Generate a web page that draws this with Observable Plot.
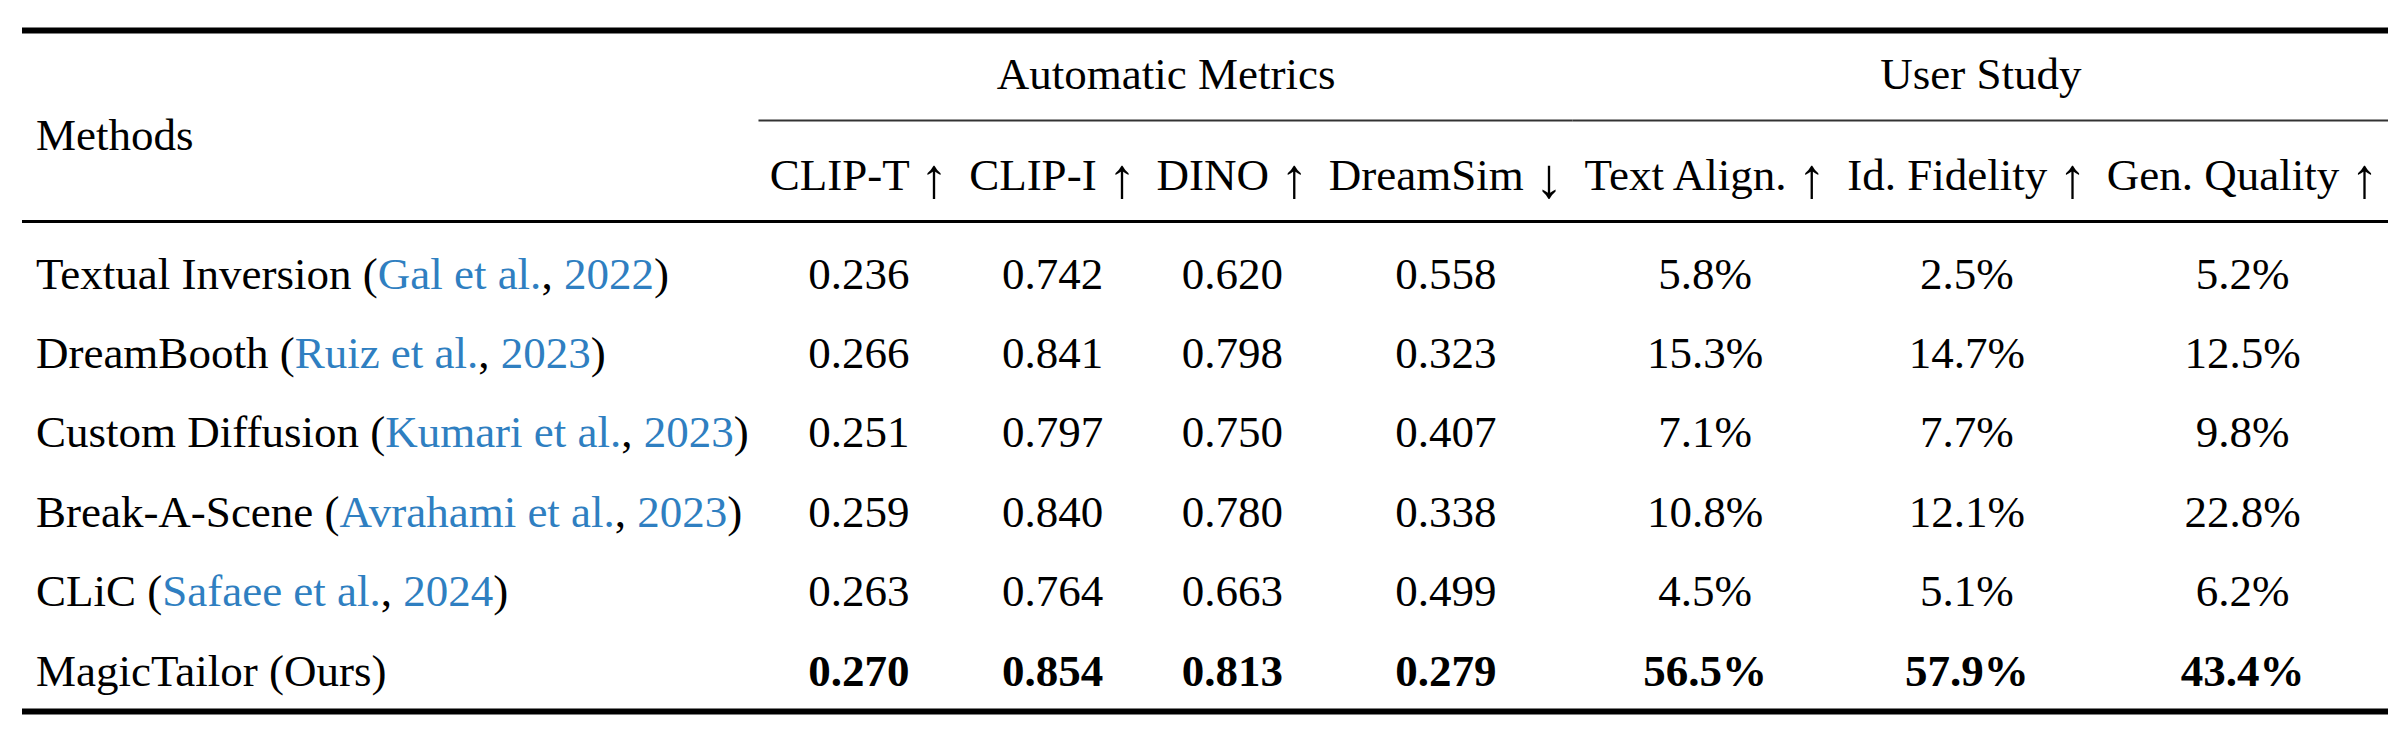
<!DOCTYPE html>
<html>
<head>
<meta charset="utf-8">
<script src="https://cdn.jsdelivr.net/npm/d3@7"></script>
<script src="https://cdn.jsdelivr.net/npm/@observablehq/plot@0.6"></script>
<style>
  html, body { margin: 0; padding: 0; background: #fff; }
  #chart svg { display: block; }
</style>
</head>
<body>
<div id="chart"></div>
<script>
// ---------- data ----------
const methods = ["Textual Inversion", "DreamBooth", "Custom Diffusion", "Break-A-Scene", "CLiC", "MagicTailor (Ours)"];
const citeAuthors = ["Gal et al.", "Ruiz et al.", "Kumari et al.", "Avrahami et al.", "Safaee et al.", null];
const citeYears = [2022, 2023, 2023, 2023, 2024, null];

const groups = ["Automatic Metrics", "User Study"];
const metricNames = ["CLIP-T", "CLIP-I", "DINO", "DreamSim", "Text Align.", "Id. Fidelity", "Gen. Quality"];
const metricGroup = [0, 0, 0, 0, 1, 1, 1];
const arrows = ["↑", "↑", "↑", "↓", "↑", "↑", "↑"];
const isPercent = [false, false, false, false, true, true, true];

const clipT = [0.236, 0.266, 0.251, 0.259, 0.263, 0.270];
const clipI = [0.742, 0.841, 0.797, 0.840, 0.764, 0.854];
const dino = [0.620, 0.798, 0.750, 0.780, 0.663, 0.813];
const dreamSim = [0.558, 0.323, 0.407, 0.338, 0.499, 0.279];
const textAlign = [5.8, 15.3, 7.1, 10.8, 4.5, 56.5];
const idFidelity = [2.5, 14.7, 7.7, 12.1, 5.1, 57.9];
const genQuality = [5.2, 12.5, 9.8, 22.8, 6.2, 43.4];
const series = [clipT, clipI, dino, dreamSim, textAlign, idFidelity, genQuality];

// ---------- styling / layout ----------
const W = 2401, H = 747;
const FONT = "'Liberation Serif', 'Times New Roman', Times, serif";
const FS = 45;
const ARROW_FS = 56;
const CITE = "#2f7fc1";
const tableLeft = 22, tableRight = 2388;
const vpos = {topRule: 30, group: 88, cmid: 120, sub: 189, methodsHead: 149, mid: 221, firstRow: 288, pitch: 79.4, bottomRule: 711};

const fmt = (v, j) => isPercent[j] ? v.toFixed(1) + "%" : v.toFixed(3);
const label = i => citeAuthors[i] ? `${methods[i]} (${citeAuthors[i]}, ${citeYears[i]})` : methods[i];
const headLabel = j => `${metricNames[j]} ${arrows[j]}`;
const best = series.map((s, j) => arrows[j] === "↓" ? d3.min(s) : d3.max(s));

// measure text like LaTeX column widths (arrow counted at the text size, as a 0.5em math symbol)
const ctx = document.createElement("canvas").getContext("2d");
const tw = (s, bold) => { ctx.font = `${bold ? "bold " : ""}${FS}px 'Liberation Serif'`; return ctx.measureText(s).width; };
const colW = [d3.max(["Methods", ...methods.map((_, i) => label(i))], s => tw(s))];
metricNames.forEach((m, j) => {
  colW.push(d3.max([tw(headLabel(j)), ...series[j].map(v => tw(fmt(v, j), v === best[j]))]));
});
const sep = 13.5;
const colStart = [], colEnd = [];
let acc = 0;
colW.forEach(w => { colStart.push(acc); acc += w + 2 * sep; colEnd.push(acc); });
const total = acc;
const colCenter = colStart.map((s, k) => (s + colEnd[k]) / 2);

// ---------- mark data ----------
const headerCells = metricNames.map((m, j) => ({x: colCenter[j + 1], y: vpos.sub, text: headLabel(j)}));
const groupCells = groups.map((g, gi) => {
  const cols = metricGroup.map((gg, j) => gg === gi ? j + 1 : -1).filter(k => k >= 0);
  return {x1: colStart[d3.min(cols)], x2: colEnd[d3.max(cols)], x: (colStart[d3.min(cols)] + colEnd[d3.max(cols)]) / 2, y: vpos.group, text: g};
});
const methodCells = methods.map((m, i) => ({x: colStart[0] + sep, y: vpos.firstRow + i * vpos.pitch, text: label(i)}));
const valueCells = [];
series.forEach((s, j) => s.forEach((v, i) => valueCells.push({
  x: colCenter[j + 1], y: vpos.firstRow + i * vpos.pitch, text: fmt(v, j), bold: v === best[j]
})));
const heavyRules = [{y: vpos.topRule}, {y: vpos.bottomRule}];

const textOpts = {fontFamily: FONT, fontSize: FS, lineAnchor: "bottom", fill: "black"};

const plot = Plot.plot({
  width: W, height: H,
  margin: 0,
  x: {type: "linear", domain: [0, total], range: [tableLeft, tableRight], axis: null},
  y: {type: "linear", domain: [0, H], range: [0, H], axis: null},
  style: {background: "#fff", fontFamily: FONT},
  marks: [
    Plot.ruleY(heavyRules, {y: "y", x1: 0, x2: total, stroke: "black", strokeWidth: 6}),
    Plot.ruleY([{y: vpos.mid}], {y: "y", x1: 0, x2: total, stroke: "black", strokeWidth: 3}),
    Plot.ruleY(groupCells, {y: vpos.cmid, x1: "x1", x2: "x2", stroke: "#333", strokeWidth: 2}),
    Plot.text(groupCells, {x: "x", y: "y", text: "text", textAnchor: "middle", ...textOpts}),
    Plot.text(headerCells, {x: "x", y: "y", text: "text", textAnchor: "middle", ...textOpts}),
    Plot.text([{x: colStart[0] + sep, y: vpos.methodsHead, text: "Methods"}], {x: "x", y: "y", text: "text", textAnchor: "start", ...textOpts}),
    Plot.text(methodCells, {x: "x", y: "y", text: "text", textAnchor: "start", ...textOpts}),
    Plot.text(valueCells.filter(d => !d.bold), {x: "x", y: "y", text: "text", textAnchor: "middle", ...textOpts}),
    Plot.text(valueCells.filter(d => d.bold), {x: "x", y: "y", text: "text", textAnchor: "middle", fontWeight: "bold", ...textOpts})
  ]
});

// split real text into styled tspans: coloured citations, taller arrows
const SVGNS = "http://www.w3.org/2000/svg";
const setParts = (t, parts) => {
  t.textContent = "";
  parts.forEach(([s, attrs]) => {
    const ts = document.createElementNS(SVGNS, "tspan");
    ts.textContent = s;
    for (const k in (attrs || {})) ts.setAttribute(k, attrs[k]);
    t.appendChild(ts);
  });
};
const labels = new Map(methods.map((m, i) => [label(i), i]));
const heads = new Map(metricNames.map((m, j) => [headLabel(j), j]));
plot.querySelectorAll("text").forEach(t => {
  const i = labels.get(t.textContent);
  if (i !== undefined && citeAuthors[i]) {
    setParts(t, [[`${methods[i]} (`], [citeAuthors[i], {fill: CITE}], [", "], [String(citeYears[i]), {fill: CITE}], [")"]]);
    return;
  }
  const j = heads.get(t.textContent);
  if (j !== undefined) {
    setParts(t, [[`${metricNames[j]} `], [arrows[j], {"font-size": ARROW_FS, dy: 7}]]);
  }
});

document.getElementById("chart").appendChild(plot);
</script>
</body>
</html>
